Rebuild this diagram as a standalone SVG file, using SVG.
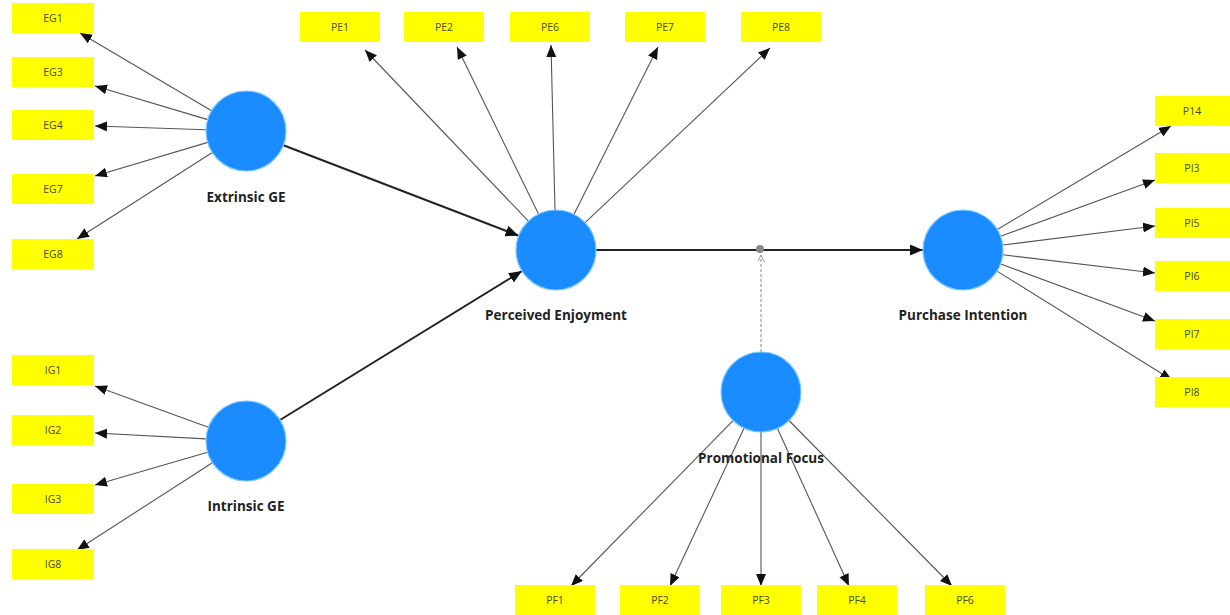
<svg xmlns="http://www.w3.org/2000/svg" width="1230" height="615" viewBox="0 0 1230 615">
<style>
.box{fill:#ffff00}
.bt{font-family:"Open Sans","DejaVu Sans",sans-serif;font-size:10.5px;fill:#4a4a2a;text-anchor:middle;dominant-baseline:central}
.lv{fill:#1a8cff;stroke:#7cc8ff;stroke-width:1.2}
.lb{font-family:"Open Sans","DejaVu Sans",sans-serif;font-size:13.5px;font-weight:bold;fill:#222;text-anchor:middle;dominant-baseline:central}
.ind{stroke:#555;stroke-width:1.1;fill:none;marker-end:url(#ah)}
.str{stroke:#222;stroke-width:2;fill:none;marker-end:url(#ahb)}
</style>
<defs>
<marker id="ah" markerUnits="userSpaceOnUse" markerWidth="14" markerHeight="12" refX="12" refY="5" orient="auto">
<path d="M0,0 L12,5 L0,10 Z" fill="#111"/>
</marker>
<marker id="ahb" markerUnits="userSpaceOnUse" markerWidth="16" markerHeight="12" refX="13" refY="5.5" orient="auto">
<path d="M0,0 L13,5.5 L0,11 Z" fill="#111"/>
</marker>
<marker id="ahm" markerUnits="userSpaceOnUse" markerWidth="10" markerHeight="10" refX="7" refY="3.5" orient="auto">
<path d="M0,0 L7,3.5 L0,7" fill="none" stroke="#999" stroke-width="1"/>
</marker>
</defs>
<g id="connectors">
<line class="ind" x1="211.6" y1="110.7" x2="80" y2="33"/>
<line class="ind" x1="207.7" y1="119.6" x2="95" y2="86"/>
<line class="ind" x1="206" y1="129.7" x2="95" y2="126"/>
<line class="ind" x1="207.7" y1="142.4" x2="95" y2="176"/>
<line class="ind" x1="212.3" y1="152.5" x2="77" y2="239"/>
<line class="ind" x1="208.4" y1="427.3" x2="95" y2="386"/>
<line class="ind" x1="206" y1="438.9" x2="95" y2="433"/>
<line class="ind" x1="207.6" y1="452.2" x2="95" y2="485"/>
<line class="ind" x1="212.4" y1="462.7" x2="77" y2="550"/>
<line class="ind" x1="528.4" y1="221.1" x2="365" y2="50"/>
<line class="ind" x1="538.5" y1="214" x2="457" y2="47"/>
<line class="ind" x1="555" y1="210" x2="551" y2="45"/>
<line class="ind" x1="574" y1="214.3" x2="658" y2="47"/>
<line class="ind" x1="585.1" y1="222.6" x2="770" y2="48"/>
<line class="ind" x1="997.4" y1="229.5" x2="1171" y2="126"/>
<line class="ind" x1="1000.6" y1="236.3" x2="1155" y2="180"/>
<line class="ind" x1="1002.7" y1="245" x2="1155" y2="226"/>
<line class="ind" x1="1002.7" y1="254.8" x2="1155" y2="273"/>
<line class="ind" x1="1000.5" y1="263.9" x2="1155" y2="321"/>
<line class="ind" x1="997" y1="271.1" x2="1172" y2="380"/>
<line class="ind" x1="733" y1="420.6" x2="571" y2="586"/>
<line class="ind" x1="744" y1="428.2" x2="670" y2="586"/>
<line class="ind" x1="761" y1="432" x2="761" y2="586"/>
<line class="ind" x1="777.5" y1="428.4" x2="849" y2="586"/>
<line class="ind" x1="789" y1="420.5" x2="952" y2="586"/>
<line class="str" x1="283.4" y1="145.3" x2="518.6" y2="235.7"/>
<line class="str" x1="280" y1="420" x2="522" y2="271"/>
<line class="str" x1="596" y1="250" x2="923" y2="250"/>
<line x1="761" y1="352" x2="761" y2="255" stroke="#999" stroke-width="1.2" stroke-dasharray="3,2" marker-end="url(#ahm)"/>
<circle cx="760" cy="249" r="4" fill="#888"/>
</g>
<g id="EG1"><rect class="box" x="12" y="3" width="82" height="30"/><text class="bt" x="53" y="18">EG1</text></g>
<g id="EG3"><rect class="box" x="12" y="57" width="82" height="30"/><text class="bt" x="53" y="72">EG3</text></g>
<g id="EG4"><rect class="box" x="12" y="110" width="82" height="30"/><text class="bt" x="53" y="125">EG4</text></g>
<g id="EG7"><rect class="box" x="12" y="174" width="82" height="30"/><text class="bt" x="53" y="189">EG7</text></g>
<g id="EG8"><rect class="box" x="12" y="239" width="82" height="30"/><text class="bt" x="53" y="254">EG8</text></g>
<g id="IG1"><rect class="box" x="12" y="355" width="82" height="30"/><text class="bt" x="53" y="370">IG1</text></g>
<g id="IG2"><rect class="box" x="12" y="415" width="82" height="30"/><text class="bt" x="53" y="430">IG2</text></g>
<g id="IG3"><rect class="box" x="12" y="484" width="82" height="30"/><text class="bt" x="53" y="499">IG3</text></g>
<g id="IG8"><rect class="box" x="12" y="549" width="82" height="30"/><text class="bt" x="53" y="564">IG8</text></g>
<g id="PE1"><rect class="box" x="300" y="12" width="80" height="30"/><text class="bt" x="340" y="27">PE1</text></g>
<g id="PE2"><rect class="box" x="404" y="12" width="80" height="30"/><text class="bt" x="444" y="27">PE2</text></g>
<g id="PE6"><rect class="box" x="510" y="12" width="80" height="30"/><text class="bt" x="550" y="27">PE6</text></g>
<g id="PE7"><rect class="box" x="625" y="12" width="80" height="30"/><text class="bt" x="665" y="27">PE7</text></g>
<g id="PE8"><rect class="box" x="741" y="12" width="80" height="30"/><text class="bt" x="781" y="27">PE8</text></g>
<g id="PI4"><rect class="box" x="1155" y="96" width="75" height="30"/><text class="bt" x="1192" y="111">P14</text></g>
<g id="PI3"><rect class="box" x="1155" y="153" width="75" height="30"/><text class="bt" x="1192" y="168">PI3</text></g>
<g id="PI5"><rect class="box" x="1155" y="208" width="75" height="30"/><text class="bt" x="1192" y="223">PI5</text></g>
<g id="PI6"><rect class="box" x="1155" y="261" width="75" height="30"/><text class="bt" x="1192" y="276">PI6</text></g>
<g id="PI7"><rect class="box" x="1155" y="319" width="75" height="30"/><text class="bt" x="1192" y="334">PI7</text></g>
<g id="PI8"><rect class="box" x="1155" y="377" width="75" height="30"/><text class="bt" x="1192" y="392">PI8</text></g>
<g id="PF1"><rect class="box" x="515" y="585" width="80" height="30"/><text class="bt" x="555" y="600">PF1</text></g>
<g id="PF2"><rect class="box" x="620" y="585" width="80" height="30"/><text class="bt" x="660" y="600">PF2</text></g>
<g id="PF3"><rect class="box" x="721" y="585" width="80" height="30"/><text class="bt" x="761" y="600">PF3</text></g>
<g id="PF4"><rect class="box" x="817" y="585" width="80" height="30"/><text class="bt" x="857" y="600">PF4</text></g>
<g id="PF6"><rect class="box" x="925" y="585" width="80" height="30"/><text class="bt" x="965" y="600">PF6</text></g>
<g id="ExtrinsicGE"><circle class="lv" cx="246" cy="131" r="40"/><text class="lb" x="246" y="197">Extrinsic GE</text></g>
<g id="IntrinsicGE"><circle class="lv" cx="246" cy="441" r="40"/><text class="lb" x="246" y="506">Intrinsic GE</text></g>
<g id="PerceivedEnjoyment"><circle class="lv" cx="556" cy="250" r="40"/><text class="lb" x="556" y="315">Perceived Enjoyment</text></g>
<g id="PurchaseIntention"><circle class="lv" cx="963" cy="250" r="40"/><text class="lb" x="963" y="315">Purchase Intention</text></g>
<g id="PromotionalFocus"><circle class="lv" cx="761" cy="392" r="40"/><text class="lb" x="761" y="458">Promotional Focus</text></g>
</svg>
